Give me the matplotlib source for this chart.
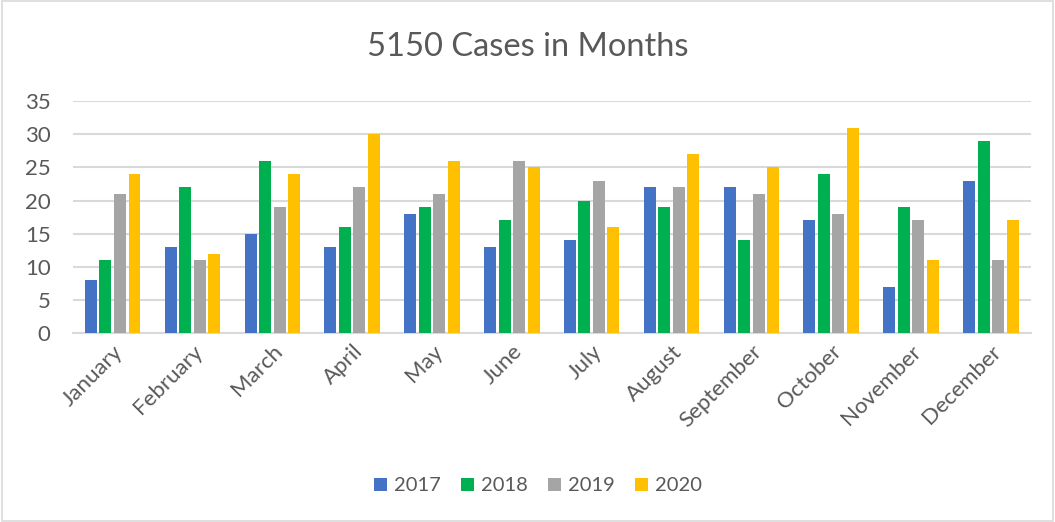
import matplotlib.pyplot as plt
import numpy as np

# datos
meses = ['January', 'February', 'March', 'April', 'May', 'June', 'July',
         'August', 'September', 'October', 'November', 'December']
anios = ['2017', '2018', '2019', '2020']
casos_2017 = [8, 13, 15, 13, 18, 13, 14, 22, 22, 17, 7, 23]
casos_2018 = [11, 22, 26, 16, 19, 17, 20, 19, 14, 24, 19, 29]
casos_2019 = [21, 11, 19, 22, 21, 26, 23, 22, 21, 18, 17, 11]
casos_2020 = [24, 12, 24, 30, 26, 25, 16, 27, 25, 31, 11, 17]
colores = ['#4472c4', '#00b050', '#a5a5a5', '#ffc000']

plt.rcParams['font.family'] = ['Lato', 'DejaVu Sans']
gris = '#595959'

fig = plt.figure(figsize=(10.55, 5.22), dpi=100)
ax = fig.add_axes([0.069, 0.362, 0.908, 0.444])

x = np.arange(len(meses))
ancho = 0.15
paso = 0.182
series = [casos_2017, casos_2018, casos_2019, casos_2020]
for i, (valores, anio, color) in enumerate(zip(series, anios, colores)):
    ax.bar(x + (i - 1.5) * paso, valores, width=ancho, color=color,
           label=anio, zorder=3)

ax.set_xlim(-0.5, len(meses) - 0.5)
ax.set_ylim(0, 35)
ax.set_yticks(range(0, 36, 5))
ax.grid(axis='y', color='#d9d9d9', linewidth=1.5, zorder=0)
for s in ['top', 'right', 'left']:
    ax.spines[s].set_visible(False)
ax.spines['bottom'].set_color('#d9d9d9')
ax.spines['bottom'].set_linewidth(1.5)
ax.tick_params(length=0, colors=gris, labelsize=16)
ax.tick_params(axis='y', pad=16)
ax.tick_params(axis='x', pad=6)
ax.set_xticks(x)
ax.set_xticklabels(meses, rotation=45, ha='right', rotation_mode='anchor')

fig.text(0.5, 0.91, '5150 Cases in Months', ha='center', va='center',
         fontsize=23.5, color=gris)

fig.legend(loc='center', bbox_to_anchor=(0.51, 0.069), ncol=4, frameon=False,
           fontsize=14.5, labelcolor=gris, handlelength=0.65, handleheight=0.65,
           columnspacing=1.0, handletextpad=0.35)

# marco exterior
fig.patches.append(plt.Rectangle((0.002, 0.002), 0.996, 0.996, transform=fig.transFigure,
                                 fill=False, edgecolor='#d9d9d9', linewidth=1.2))

plt.savefig('out.png', dpi=100)
plt.close()
